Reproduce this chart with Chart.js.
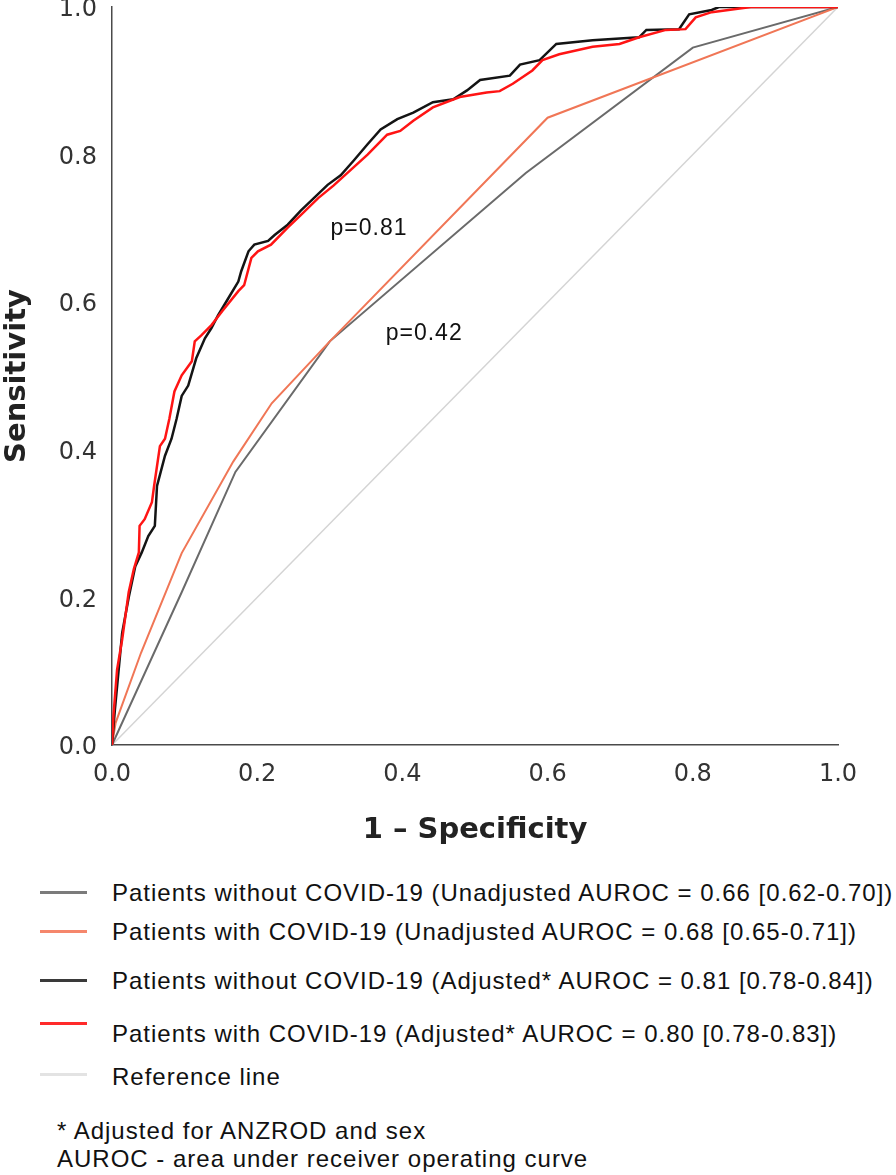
<!DOCTYPE html>
<html>
<head>
<meta charset="utf-8">
<script src="https://cdn.jsdelivr.net/npm/chart.js@4"></script>
<style>
    body { margin: 0; background: #fff; }
    #wrap { position: relative; width: 896px; height: 1175px; }
    #roc { position: absolute; left: 0; top: 0; }
    .row { position: absolute; left: 0; font-family: "Liberation Sans", Arial, sans-serif; font-size: 24px; letter-spacing: 1px; color: #111; white-space: nowrap; }
    .sw { position: absolute; left: 40px; width: 47px; }
    .txt { position: absolute; left: 112px; transform: translateY(-50%); }
    .note { position: absolute; left: 57px; font-family: "Liberation Sans", Arial, sans-serif; font-size: 24px; letter-spacing: 1px; color: #111; white-space: nowrap; transform: translateY(-50%); }
</style>
</head>
<body>
<div id="wrap">
    <canvas id="roc" width="896" height="860"></canvas>
    <div id="legend"></div>
    <div class="note" style="top:1131px">* Adjusted for ANZROD and sex</div>
    <div class="note" style="top:1159px">AUROC - area under receiver operating curve</div>
</div>
<script>
// ROC曲線のデータ (1 - 特異度, 感度)
const fprUnadjNoCovid = [0, 0.096, 0.17, 0.30, 0.57, 0.80, 1.0];
const tprUnadjNoCovid = [0, 0.207, 0.37, 0.547, 0.775, 0.945, 1.0];

const fprUnadjCovid = [0, 0.005, 0.04, 0.096, 0.167, 0.22, 0.30, 0.60, 1.0];
const tprUnadjCovid = [0, 0.03, 0.125, 0.26, 0.384, 0.463, 0.547, 0.85, 1.0];

const fprAdjNoCovid = [0, 0.004, 0.014, 0.023, 0.032, 0.041, 0.050, 0.059, 0.062, 0.073, 0.082, 0.089,
    0.096, 0.105, 0.116, 0.128, 0.137, 0.146, 0.160, 0.174, 0.178, 0.188, 0.196, 0.215, 0.224, 0.242,
    0.260, 0.278, 0.297, 0.315, 0.333, 0.352, 0.370, 0.393, 0.415, 0.442, 0.470, 0.489, 0.507, 0.548,
    0.562, 0.589, 0.612, 0.662, 0.726, 0.736, 0.781, 0.795, 0.826, 0.836, 1.0];
const tprAdjNoCovid = [0, 0.048, 0.152, 0.200, 0.242, 0.261, 0.283, 0.297, 0.351, 0.392, 0.415, 0.442,
    0.473, 0.487, 0.524, 0.551, 0.565, 0.582, 0.605, 0.628, 0.642, 0.669, 0.678, 0.683, 0.691, 0.705,
    0.724, 0.741, 0.759, 0.772, 0.792, 0.814, 0.834, 0.848, 0.857, 0.871, 0.875, 0.887, 0.901, 0.907,
    0.922, 0.928, 0.950, 0.955, 0.959, 0.969, 0.970, 0.990, 0.996, 1.0, 1.0];

const fprAdjCovid = [0, 0.002, 0.007, 0.014, 0.023, 0.030, 0.037, 0.038, 0.045, 0.055, 0.058, 0.066,
    0.073, 0.079, 0.086, 0.096, 0.110, 0.114, 0.123, 0.137, 0.152, 0.174, 0.182, 0.192, 0.201, 0.219,
    0.242, 0.260, 0.284, 0.305, 0.352, 0.379, 0.397, 0.415, 0.442, 0.479, 0.516, 0.534, 0.552, 0.579,
    0.593, 0.616, 0.662, 0.699, 0.726, 0.763, 0.790, 0.804, 0.826, 0.88, 1.0];
const tprAdjCovid = [0, 0.04, 0.102, 0.143, 0.207, 0.238, 0.261, 0.297, 0.306, 0.329, 0.351, 0.405,
    0.415, 0.442, 0.479, 0.501, 0.520, 0.547, 0.555, 0.569, 0.588, 0.615, 0.623, 0.660, 0.669, 0.678,
    0.701, 0.718, 0.741, 0.758, 0.80, 0.827, 0.832, 0.846, 0.864, 0.878, 0.884, 0.886, 0.896, 0.914,
    0.928, 0.936, 0.946, 0.950, 0.959, 0.969, 0.970, 0.986, 0.993, 1.0, 1.0];

const fprReference = [0, 1];
const tprReference = [0, 1];

const tickValues = [0, 0.2, 0.4, 0.6, 0.8, 1.0];

// 凡例ラベル
const seriesLabels = [
    "Patients without COVID-19 (Unadjusted AUROC = 0.66 [0.62-0.70])",
    "Patients with COVID-19 (Unadjusted AUROC = 0.68 [0.65-0.71])",
    "Patients without COVID-19 (Adjusted* AUROC = 0.81 [0.78-0.84])",
    "Patients with COVID-19 (Adjusted* AUROC = 0.80 [0.78-0.83])",
    "Reference line"
];

// p値の注釈
const noteTexts = ["p=0.81", "p=0.42"];
const noteX = [0.354, 0.43];
const noteY = [0.70, 0.558];

const toPoints = (xs, ys) => xs.map((x, i) => ({ x: x, y: ys[i] }));

// 凡例 (HTML)
const legendStyle = [
    { color: "#7b7b7b", width: 3, top: 892, textTop: 893 },
    { color: "#f5876c", width: 3, top: 931, textTop: 932 },
    { color: "#3a3a3a", width: 3, top: 980, textTop: 981 },
    { color: "#ff2a2a", width: 3, top: 1023, textTop: 1034 },
    { color: "#e3e3e3", width: 3, top: 1074, textTop: 1077 }
];
const legendEl = document.getElementById('legend');
seriesLabels.forEach((label, i) => {
    const st = legendStyle[i];
    const sw = document.createElement('div');
    sw.className = 'row sw';
    sw.style.top = (st.top - st.width / 2) + 'px';
    sw.style.height = st.width + 'px';
    sw.style.background = st.color;
    legendEl.appendChild(sw);
    const t = document.createElement('div');
    t.className = 'row txt';
    t.style.top = st.textTop + 'px';
    t.textContent = label;
    legendEl.appendChild(t);
});

// 注釈プラグイン
const notePlugin = {
    id: 'pNotes',
    afterDatasetsDraw(chart) {
        const { ctx, scales } = chart;
        ctx.save();
        ctx.font = '23px "Liberation Sans", Arial, sans-serif';
        ctx.letterSpacing = '1px';
        ctx.fillStyle = '#111';
        ctx.textAlign = 'center';
        ctx.textBaseline = 'middle';
        noteTexts.forEach((txt, i) => {
            ctx.fillText(txt, scales.x.getPixelForValue(noteX[i]), scales.y.getPixelForValue(noteY[i]));
        });
        ctx.restore();
    }
};

const tickFont = { family: '"DejaVu Sans", Verdana, sans-serif', size: 24 };
const titleFont = { family: '"DejaVu Sans", Verdana, sans-serif', size: 29, weight: 'bold' };

// 軸ラベルによる自動余白を無効化
const noPad = scale => {
    scale.paddingTop = 0;
    scale.paddingBottom = 0;
    scale.paddingLeft = 0;
    scale.paddingRight = 0;
};

new Chart(document.getElementById('roc'), {
    type: 'scatter',
    data: {
        datasets: [
            { label: seriesLabels[3], data: toPoints(fprAdjCovid, tprAdjCovid), borderColor: '#ff1414', borderWidth: 2.5 },
            { label: seriesLabels[2], data: toPoints(fprAdjNoCovid, tprAdjNoCovid), borderColor: '#141414', borderWidth: 2.5 },
            { label: seriesLabels[1], data: toPoints(fprUnadjCovid, tprUnadjCovid), borderColor: '#f07656', borderWidth: 2 },
            { label: seriesLabels[0], data: toPoints(fprUnadjNoCovid, tprUnadjNoCovid), borderColor: '#6a6a6a', borderWidth: 2 },
            { label: seriesLabels[4], data: toPoints(fprReference, tprReference), borderColor: '#d4d4d4', borderWidth: 1.5 }
        ].map(ds => Object.assign(ds, { showLine: true, pointRadius: 0, tension: 0, fill: false }))
    },
    options: {
        responsive: false,
        animation: false,
        layout: { padding: { left: 0, right: 58, top: 7, bottom: 0 } },
        plugins: {
            legend: { display: false },
            tooltip: { enabled: false }
        },
        scales: {
            x: {
                type: 'linear',
                min: 0,
                max: 1,
                afterBuildTicks: scale => { scale.ticks = tickValues.map(v => ({ value: v })); },
                afterFit: scale => { scale.height = 115; noPad(scale); },
                grid: { display: false, drawTicks: false },
                border: { display: true, color: '#4a4a4a', width: 1.5 },
                ticks: {
                    color: '#333',
                    font: tickFont,
                    padding: 15,
                    maxRotation: 0,
                    callback: v => v.toFixed(1)
                },
                title: { display: true, text: '1 – Specificity', color: '#222', font: titleFont, padding: { top: 0, bottom: 12 } }
            },
            y: {
                type: 'linear',
                min: 0,
                max: 1,
                afterBuildTicks: scale => { scale.ticks = tickValues.map(v => ({ value: v })); },
                afterFit: scale => { scale.width = 112; noPad(scale); },
                grid: { display: false, drawTicks: false },
                border: { display: true, color: '#4a4a4a', width: 1.5 },
                ticks: {
                    color: '#333',
                    font: tickFont,
                    padding: 15,
                    labelOffset: 3,
                    callback: v => v.toFixed(1)
                },
                title: { display: true, text: 'Sensitivity', color: '#222', font: titleFont, padding: { top: 0, bottom: 0 } }
            }
        }
    },
    plugins: [notePlugin]
});
</script>
</body>
</html>
